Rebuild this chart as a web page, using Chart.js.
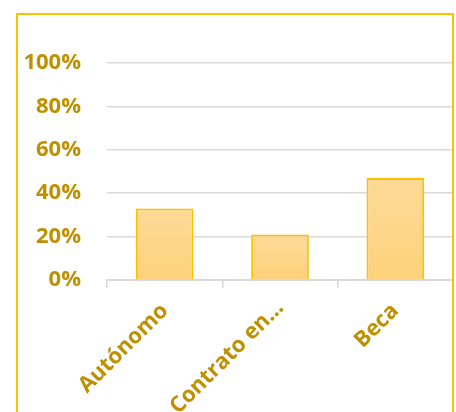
<!DOCTYPE html>
<html>
<head>
<meta charset="utf-8">
<script src="https://cdn.jsdelivr.net/npm/chart.js@4/dist/chart.umd.min.js"></script>
<style>
  html, body { margin: 0; padding: 0; background: #fff; }
  #wrap { position: relative; width: 456px; height: 412px; overflow: hidden; }
  #frame { position: absolute; left: 16px; top: 13px; width: 434px; height: 420px;
           border: 2px solid #FFC000; border-bottom: none; }
  #c { position: absolute; left: 0; top: 0; }
</style>
</head>
<body>
<div id="wrap">
  <canvas id="c" width="456" height="412"></canvas>
  <div id="frame"></div>
</div>
<script>
// categorias y valores (%)
var categorias = ['Autónomo', 'Contrato en…', 'Beca'];
var valores = [33, 21, 47];
var ticksY = [0, 20, 40, 60, 80, 100];

var dorado = '#BF9000';

function relleno(context) {
    var chart = context.chart;
    if (!chart.chartArea) return '#FDD68A';
    var y = chart.scales.y;
    var top = y.getPixelForValue(valores[context.dataIndex]);
    var g = chart.ctx.createLinearGradient(0, top, 0, y.getPixelForValue(0));
    g.addColorStop(0, '#FDDA98');
    g.addColorStop(1, '#FDD27A');
    return g;
}

var ctx = document.getElementById('c').getContext('2d');
var grafico = new Chart(ctx, {
    type: 'bar',
    data: {
        labels: categorias,
        datasets: [{
            data: valores,
            backgroundColor: relleno,
            borderColor: '#FFC000',
            borderWidth: 2,
            categoryPercentage: 1,
            barPercentage: 0.5
        }]
    },
    options: {
        responsive: false,
        animation: false,
        layout: { padding: { top: 63, right: 3, left: 17, bottom: 0 } },
        plugins: { legend: { display: false }, tooltip: { enabled: false } },
        scales: {
            y: {
                min: 0,
                max: 100,
                afterBuildTicks: function (axis) {
                    axis.ticks = ticksY.map(function (v) { return { value: v }; });
                },
                afterFit: function (axis) {
                    axis.width = 90;
                    axis.paddingTop = 0;
                    axis.paddingBottom = 0;
                },
                grid: { color: '#D9D9D9', lineWidth: 1.6, drawTicks: false },
                border: { display: false },
                ticks: {
                    color: dorado,
                    padding: 26,
                    font: { family: 'Open Sans', weight: 'bold', size: 22 },
                    callback: function (v) { return v + '%'; }
                }
            },
            x: {
                afterFit: function (axis) {
                    axis.height = 132;
                    axis.paddingLeft = 0;
                    axis.paddingRight = 0;
                },
                grid: { display: true, drawOnChartArea: false, drawTicks: true, tickLength: 8,
                        color: '#D9D9D9', lineWidth: 1.6 },
                border: { display: true, color: '#D9D9D9', width: 2 },
                ticks: {
                    color: dorado,
                    minRotation: 45,
                    maxRotation: 45,
                    padding: 10,
                    font: function (c) {
                        // la etiqueta larga sube un poco para que no se corte
                        return { family: 'Open Sans', weight: 'bold', size: 22,
                                 lineHeight: c.index === 1 ? 0.8 : 1.2 };
                    }
                }
            }
        }
    }
});
</script>
</body>
</html>
